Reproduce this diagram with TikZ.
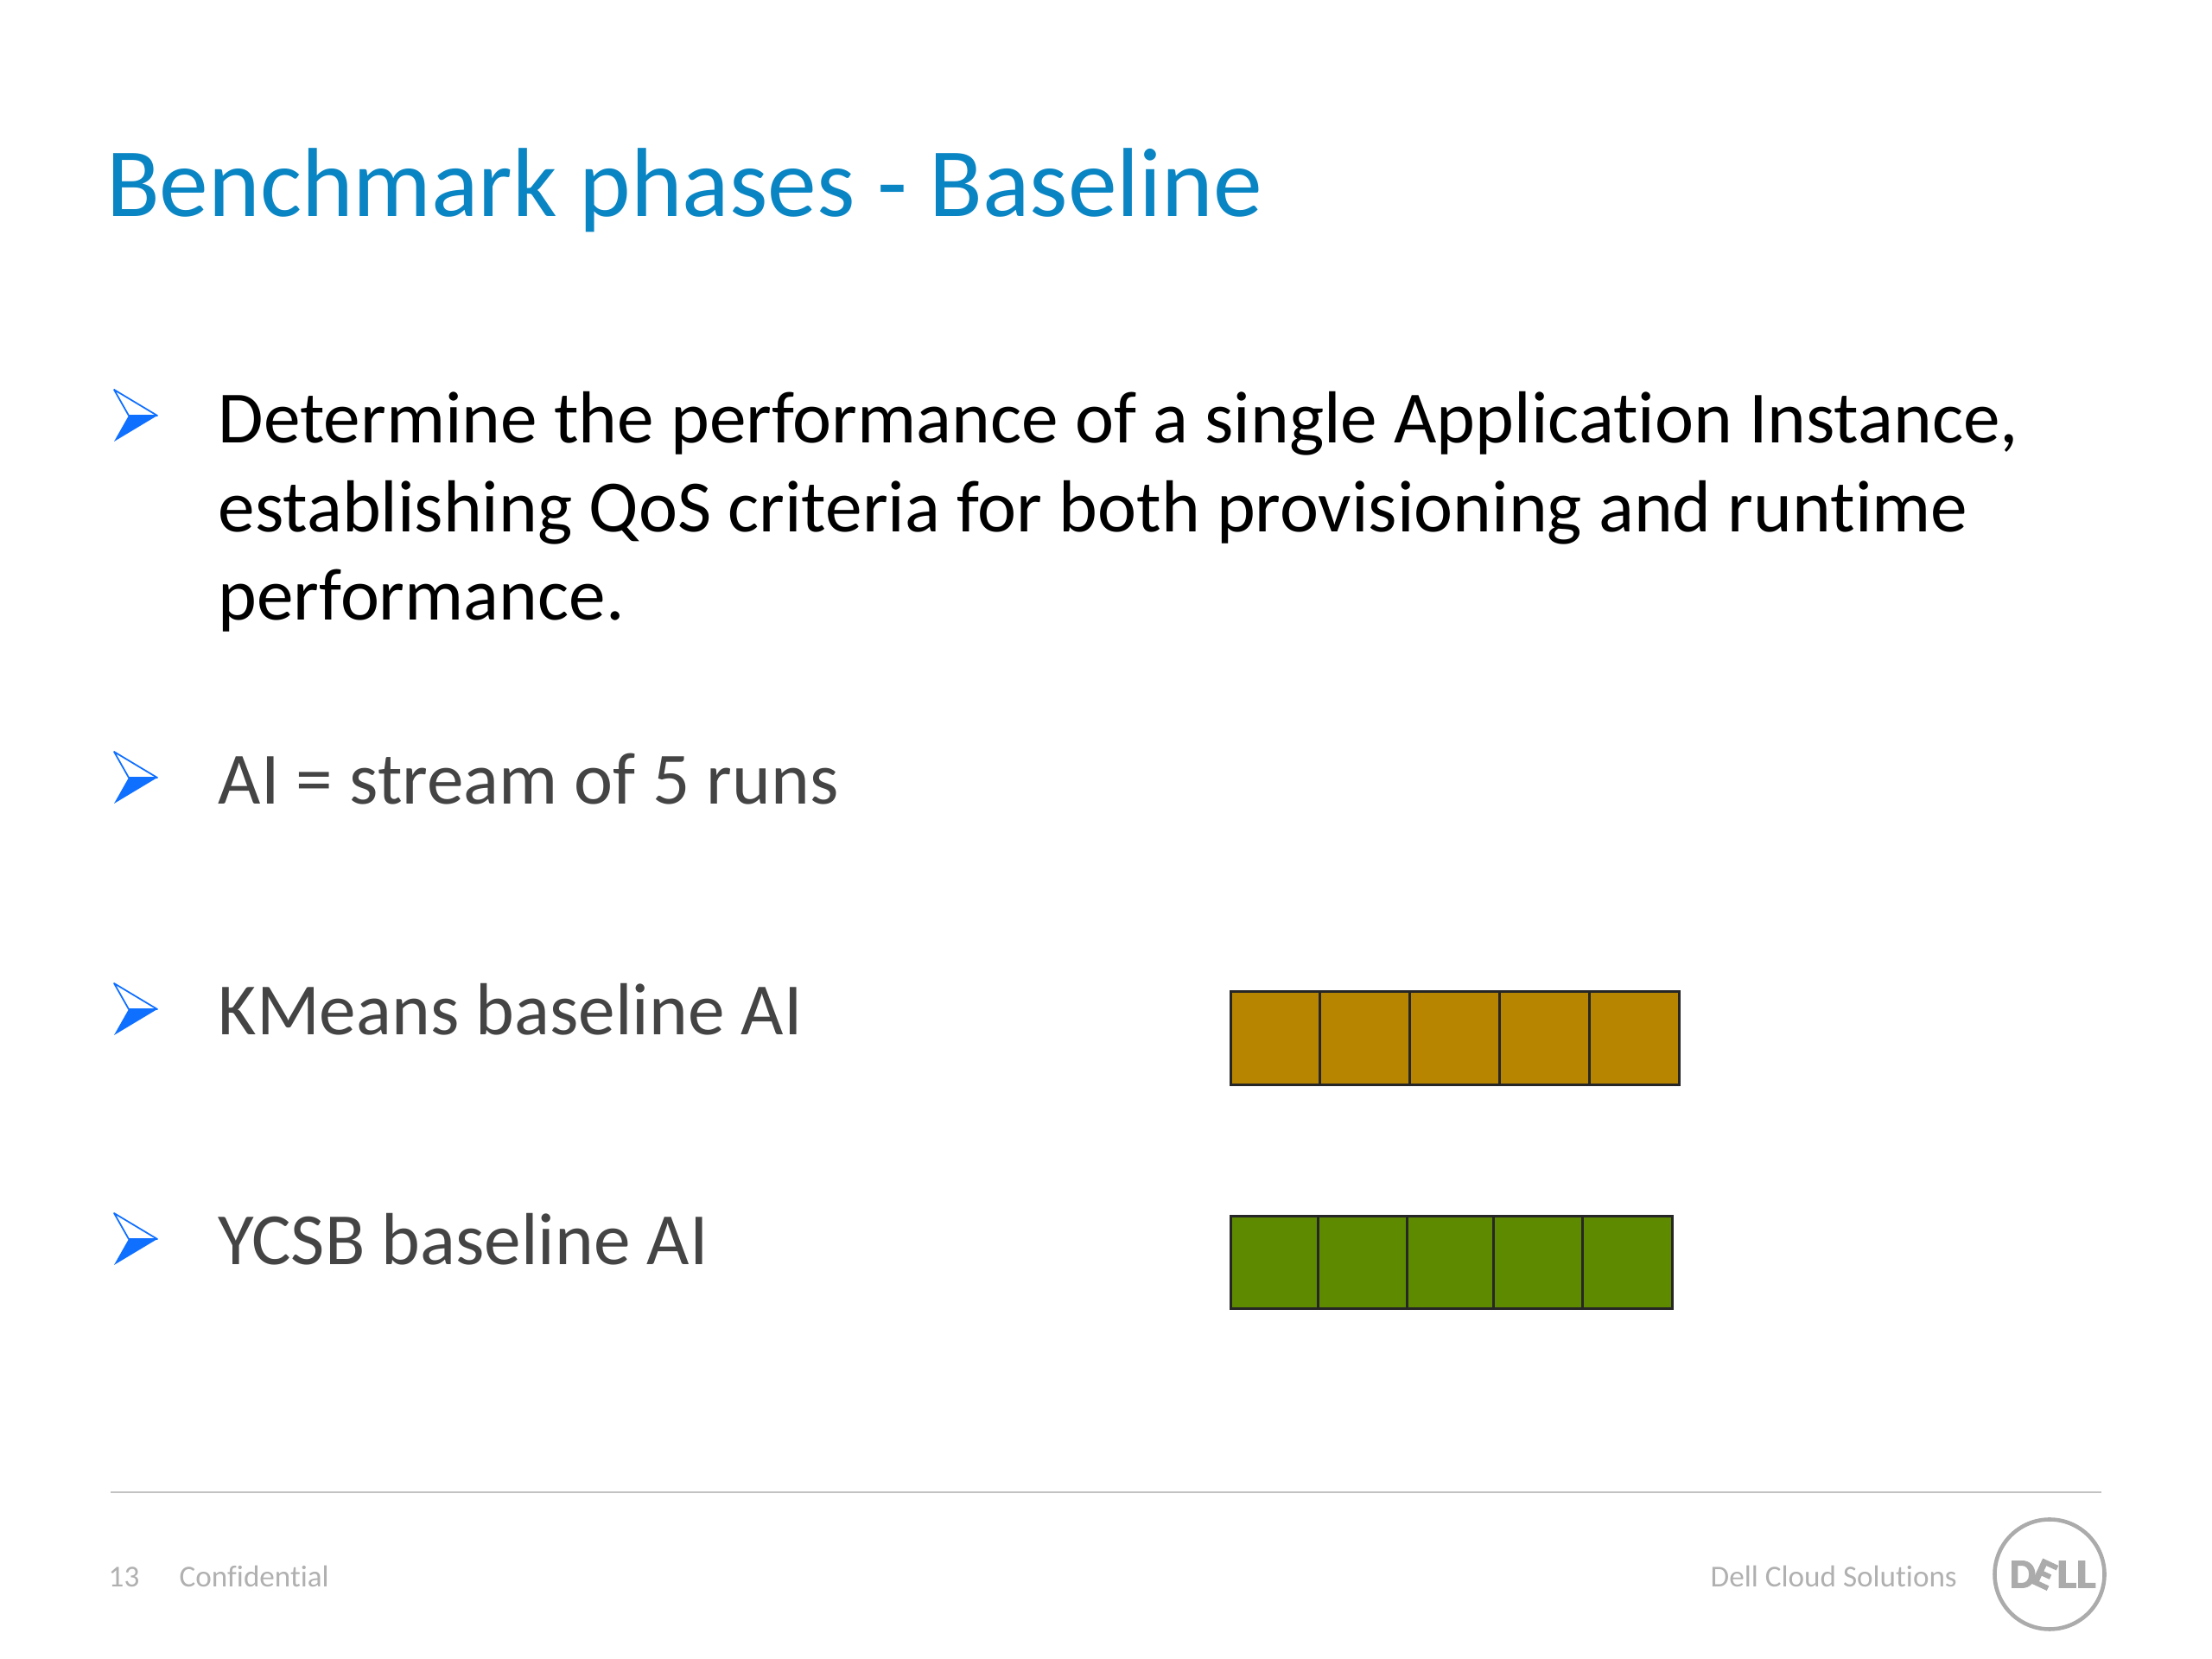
\documentclass[tikz,border=0pt]{standalone}
\usepackage{fontspec}
\setmainfont{Carlito}[Ligatures=CommonOff]
\newfontfamily\logofont{Carlito}[FakeBold=2.5]
\usetikzlibrary{positioning}
\definecolor{titleblue}{HTML}{0A85C4}
\definecolor{bulletblue}{HTML}{0F6FFF}
\definecolor{bodygrey}{HTML}{444444}
\definecolor{footgrey}{HTML}{B0B0B0}
\definecolor{logogrey}{HTML}{ABABAB}
\definecolor{cellorange}{HTML}{B88500}
\definecolor{cellgreen}{HTML}{5E8A00}
\tikzset{%
  mytitle/.style={anchor=base west, inner sep=0, text=titleblue, font=\fontsize{32.3}{40}\selectfont},
  mybody/.style={anchor=base west, inner sep=0, text=bodygrey, font=\fontsize{24.27}{29.2}\selectfont},
  myfoot/.style={anchor=base west, inner sep=0, text=footgrey, font=\fontsize{10}{11}\selectfont},
  mycell/.style={draw=black!85, line width=0.85pt, inner sep=0, outer sep=0, minimum height=#1},
  orangecell/.style={mycell=1.08cm, fill=cellorange, minimum width=1.038cm},
  greencell/.style={mycell=1.07cm, fill=cellgreen},
  mylogo/.style={inner sep=0, text=logogrey, font=\logofont\fontsize{13.5}{13.5}\bfseries\selectfont},
  mybullet/.pic={
    \draw [bulletblue, line width=0.5pt, line join=round] (-0.17,0.30) -- (0.33,0) -- (0,0) -- cycle;
    \fill [bulletblue] (-0.17,-0.30) -- (0.33,0) -- (0,0) -- cycle;
  }
}
\begin{document}
\begin{tikzpicture}
  \useasboundingbox [fill=white] (0,0) rectangle (25.6,19.2);
  \node[mytitle] (title) at (1.225,16.69) {Benchmark phases - Baseline};
  % bullets
  \pic at (1.49,14.39) {mybullet};
  \pic at (1.49,10.20) {mybullet};
  \pic at (1.49,7.52) {mybullet};
  \pic at (1.49,4.86) {mybullet};
  \node[mybody, text=black] (line1) at (2.52,14.07) {Determine the performance of a single Application Instance,};
  \node[mybody, text=black] (line2) at (2.52,13.04) {establishing QoS criteria for both provisioning and runtime};
  \node[mybody, text=black] (line3) at (2.52,12.02) {performance.};
  \node[mybody] (stream) at (2.52,9.89) {AI = stream of 5 runs};
  \node[mybody] (kmeans) at (2.52,7.22) {KMeans baseline AI};
  \node[mybody] (ycsb) at (2.52,4.56) {YCSB baseline AI};
  % kmeans runs
  \node[orangecell, anchor=west] (a1) at (14.24,7.18) {};
  \node[orangecell, right=0pt of a1] (a2) {};
  \node[orangecell, right=0pt of a2] (a3) {};
  \node[orangecell, right=0pt of a3] (a4) {};
  \node[orangecell, right=0pt of a4] (a5) {};
  % ycsb runs
  \node[greencell, anchor=west, minimum width=1.01cm] (b1) at (14.24,4.585) {};
  \node[greencell, right=0pt of b1, minimum width=1.03cm] (b2) {};
  \node[greencell, right=0pt of b2, minimum width=1.00cm] (b3) {};
  \node[greencell, right=0pt of b3, minimum width=1.03cm] (b4) {};
  \node[greencell, right=0pt of b4, minimum width=1.04cm] (b5) {};
  % footer
  \coordinate (ruleL) at (1.28,1.93);
  \coordinate (ruleR) at (24.32,1.93);
  \draw [black!24, line width=0.8pt] (ruleL) -- (ruleR);
  \node[myfoot] (page) at (1.25,0.835) {13};
  \node[myfoot] (conf) at (2.07,0.835) {Confidential};
  \node[myfoot] (cloud) at (19.79,0.835) {Dell Cloud Solutions};
  \node[circle, draw=logogrey, line width=1.3pt, minimum size=1.27cm, inner sep=0] (logo) at (23.72,0.98) {};
  \node[mylogo] (logoD) at (23.41,0.98) {D};
  \node[mylogo, rotate=-25] (logoE) at (23.66,0.98) {E};
  \node[mylogo, xscale=1.12] (logoL) at (24.03,0.98) {LL};
\end{tikzpicture}
\end{document}
